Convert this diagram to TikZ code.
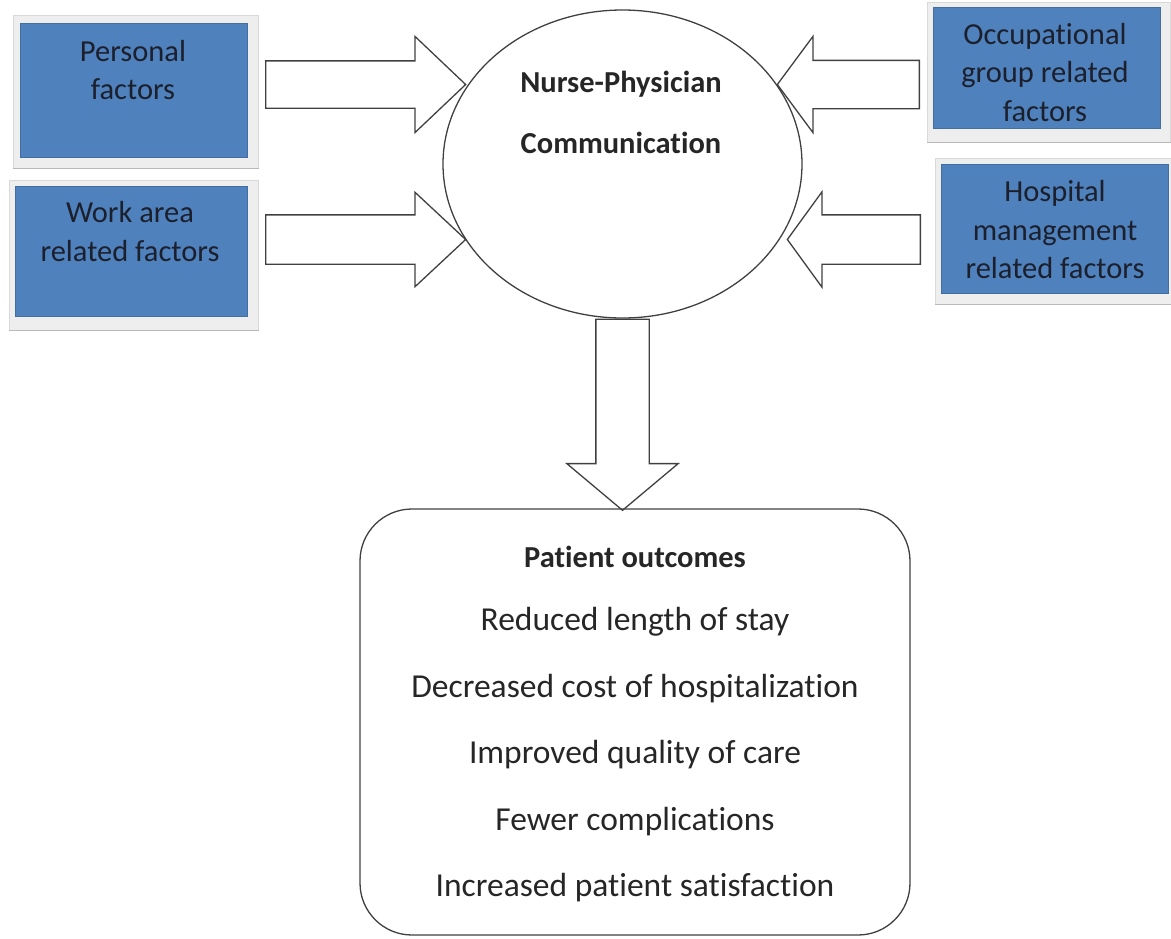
\documentclass[tikz,border=0pt]{standalone}
\usepackage{fontspec}
\setmainfont{Carlito}[Ligatures=NoCommon]
\usetikzlibrary{shapes.geometric,shapes.arrows,calc,backgrounds}
\definecolor{boxblue}{RGB}{79,129,189}
\definecolor{inktext}{RGB}{28,32,45}
\definecolor{framegray}{RGB}{238,238,238}
\tikzset{
	factor/.style={fill=boxblue, draw=boxblue!85!black, line width=0.6pt, inner sep=0pt, anchor=north west},
	framebox/.style={fill=framegray, draw=gray!30, line width=0.8pt},
	factortext/.style={text=inktext, align=center, font=\fontsize{30.5}{38.5}\selectfont},
	blockarrow/.style={single arrow, draw=black!75, line width=1.3pt, inner xsep=0pt, minimum width=0pt, anchor=tail},
	outtext/.style={text=black!85, font=\fontsize{33.5}{40}\selectfont},
	boldtext/.style={text=black!85, font=\bfseries\fontsize{30.5}{61}\selectfont, align=center}
}
\begin{document}
\begin{tikzpicture}
	[
	x=1pt, y=-1pt
	%Pixelkoordinaten, y nach unten
	]
	\useasboundingbox (0,0) rectangle (1171,938);
	
	%Faktoren links
	\node[factor, minimum width=227pt, minimum height=134pt] (pers) at (20,23) {};
	\node[factortext] (persT) at (133,70) {Personal\\factors};
	\node[factor, minimum width=232pt, minimum height=130pt] (work) at (15,186) {};
	\node[factortext] (workT) at (130,231.5) {Work area\\related factors};
	
	%Faktoren rechts
	\node[factor, minimum width=227pt, minimum height=121pt] (occ) at (933,7) {};
	\node[factortext] (occT) at (1045,72.5) {Occupational\\group related\\factors};
	\node[factor, minimum width=227pt, minimum height=129pt] (hosp) at (941,164) {};
	\node[factortext] (hospT) at (1055,230) {Hospital\\management\\related factors};
	
	%Rahmen hinter den Kästen
	\begin{scope}[on background layer]
		\foreach \b/\l/\t/\r/\u in {pers/7/8/11/11, work/6/6/11/14, occ/6/5/10/14, hosp/6/6/3/11}
		{
			\draw[framebox] ($(\b.north west)+(-\l,-\t)$) rectangle ($(\b.south east)+(\r,\u)$);
			\draw[gray!55, line width=1.2pt] ($(\b.south west)+(-\l,\u)$) -- ($(\b.south east)+(\r,\u)$);
		}
	\end{scope}
	
	%Kommunikation
	\node[ellipse, draw=black!75, line width=1.3pt, minimum width=359pt, minimum height=308pt, inner sep=0pt] (comm) at (622.5,164) {};
	\node[boldtext] (commT) at (621,112.5) {Nurse-Physician\\Communication};
	
	%Blockpfeile (Ankerpunkt = Pfeilende)
	\node[blockarrow, minimum height=200pt, inner ysep=23pt, single arrow head extend=24.5pt, single arrow tip angle=87] (aPers) at (265,84.5) {};
	\node[blockarrow, minimum height=200pt, inner ysep=24pt, single arrow head extend=22.5pt, single arrow tip angle=86] (aWork) at (265,239.5) {};
	\node[blockarrow, minimum height=142pt, inner ysep=23.5pt, single arrow head extend=24pt, single arrow tip angle=107, shape border rotate=180] (aOcc) at (920,84.5) {};
	\node[blockarrow, minimum height=133pt, inner ysep=24pt, single arrow head extend=23pt, single arrow tip angle=108, shape border rotate=180] (aHosp) at (921,239.5) {};
	\node[blockarrow, minimum height=191pt, inner xsep=26pt, inner ysep=0pt, single arrow head extend=29pt, single arrow tip angle=100, shape border rotate=270] (aOut) at (comm.south) {};
	
	%Patientenergebnisse
	\node[draw=black!75, line width=1.3pt, rounded corners=52pt, minimum width=550pt, minimum height=426pt, inner sep=0pt] (outc) at (635,722) {};
	\node[boldtext] (outcT) at (635,557) {Patient outcomes};
	\foreach \txt [count=\i] in {Reduced length of stay, Decreased cost of hospitalization, Improved quality of care, Fewer complications, Increased patient satisfaction}
	{
		\node[outtext] (out\i) at (635,{622+66.5*(\i-1)}) {\txt};
	}
\end{tikzpicture}
\end{document}
